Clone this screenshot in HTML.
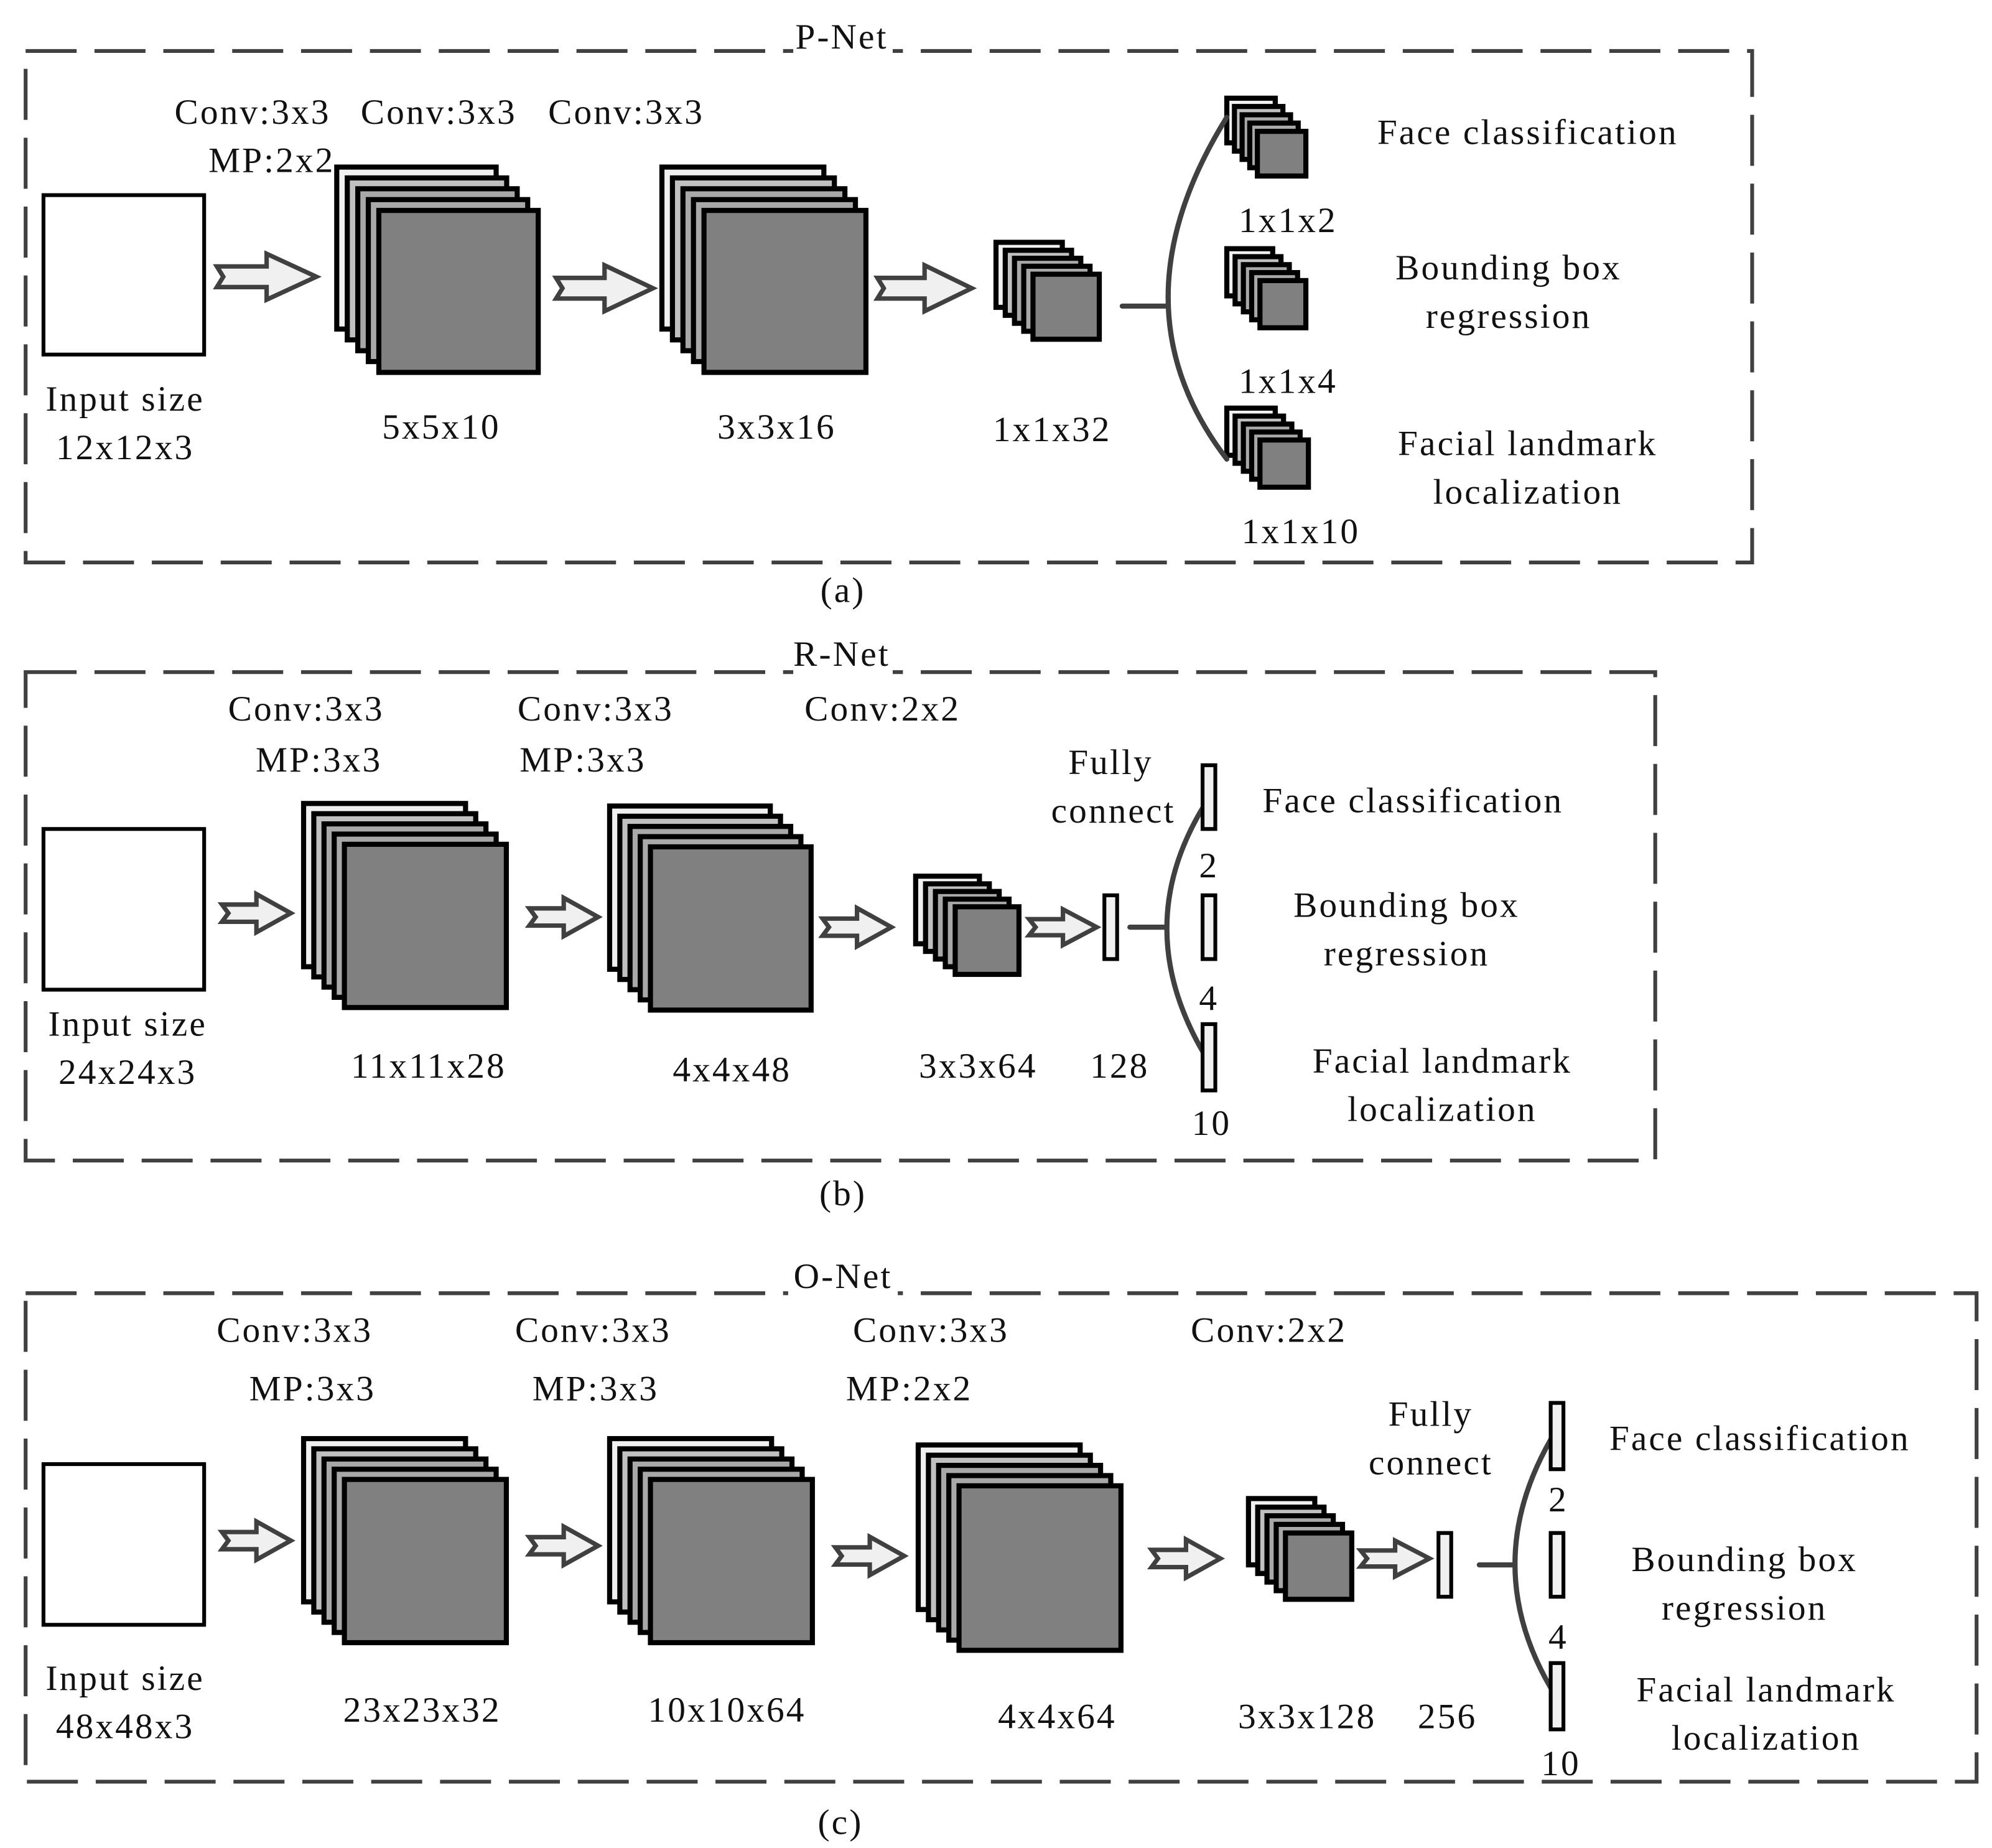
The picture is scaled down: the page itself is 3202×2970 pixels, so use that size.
<!DOCTYPE html>
<html><head><meta charset="utf-8"><style>
html,body{margin:0;padding:0;background:#fff;}
svg{display:block;}
text{font-family:"Liberation Serif",serif;font-size:28px;fill:#111;text-anchor:middle;letter-spacing:1.5px;}
</style></head><body>
<svg id="s" width="3202" height="2970" viewBox="0 0 1562 1449" xmlns="http://www.w3.org/2000/svg">
<rect width="1562" height="1449" fill="#fff"/>
<g fill="none" stroke="#404040" stroke-width="3" stroke-dasharray="40 14">
<rect x="20" y="40" width="1354" height="401"/>
<rect x="20" y="527" width="1278" height="383"/>
<rect x="20" y="1014" width="1530" height="383"/>
</g>
<rect x="622" y="14" width="78" height="30" fill="#fff"/>
<rect x="622" y="500" width="78" height="30" fill="#fff"/>
<rect x="618" y="988" width="86" height="30" fill="#fff"/>
<g fill="#fff" stroke="#000" stroke-width="3">
<rect x="34" y="153" width="126" height="125"/>
<rect x="34" y="650" width="126" height="126"/>
<rect x="34" y="1148" width="126" height="126"/>
</g>
<g id="shapes"></g>
<g fill="none" stroke="#404040" stroke-width="4" stroke-linecap="round">
<line x1="880" y1="240" x2="916" y2="240"/>
<path d="M962,92 Q870,240 962,360"/>
<line x1="886" y1="727" x2="915" y2="727"/>
<path d="M944,632 Q886,727 944,826"/>
<line x1="1160" y1="1227" x2="1188" y2="1227"/>
<path d="M1220,1122 Q1156,1227 1220,1330"/>
</g>
<g fill="#f0f0f0" stroke="#000" stroke-width="3">
<rect x="866" y="702" width="10" height="50"/>
<rect x="943" y="600" width="10" height="50"/>
<rect x="943" y="702" width="10" height="50"/>
<rect x="943" y="803" width="10" height="52"/>
<rect x="1128" y="1202" width="10" height="50"/>
<rect x="1216" y="1100" width="10" height="52"/>
<rect x="1216" y="1202" width="10" height="50"/>
<rect x="1216" y="1304" width="10" height="52"/>
</g>
<g>
<text x="660" y="38">P-Net</text>
<text x="198" y="97">Conv:3x3</text><text x="213" y="135">MP:2x2</text>
<text x="344" y="97">Conv:3x3</text><text x="491" y="97">Conv:3x3</text>
<text x="98" y="322">Input size</text><text x="98" y="360">12x12x3</text>
<text x="346" y="344">5x5x10</text><text x="609" y="344">3x3x16</text><text x="825" y="346">1x1x32</text>
<text x="1198" y="113">Face classification</text><text x="1010" y="182">1x1x2</text>
<text x="1183" y="219">Bounding box</text><text x="1183" y="257">regression</text>
<text x="1010" y="308">1x1x4</text>
<text x="1198" y="357">Facial landmark</text><text x="1198" y="395">localization</text>
<text x="1020" y="426">1x1x10</text>
<text x="661" y="472">(a)</text>

<text x="660" y="522">R-Net</text>
<text x="240" y="565">Conv:3x3</text><text x="250" y="605">MP:3x3</text>
<text x="467" y="565">Conv:3x3</text><text x="457" y="605">MP:3x3</text>
<text x="692" y="565">Conv:2x2</text>
<text x="871" y="607">Fully</text><text x="873" y="645">connect</text>
<text x="1108" y="637">Face classification</text>
<text x="1103" y="719">Bounding box</text><text x="1103" y="757">regression</text>
<text x="1131" y="841">Facial landmark</text><text x="1131" y="879">localization</text>
<text x="948" y="688">2</text><text x="948" y="792">4</text><text x="950" y="890">10</text>
<text x="100" y="812">Input size</text><text x="100" y="850">24x24x3</text>
<text x="336" y="845">11x11x28</text><text x="574" y="848">4x4x48</text>
<text x="767" y="845">3x3x64</text><text x="878" y="845">128</text>
<text x="661" y="945">(b)</text>

<text x="661" y="1010">O-Net</text>
<text x="231" y="1052">Conv:3x3</text><text x="245" y="1098">MP:3x3</text>
<text x="465" y="1052">Conv:3x3</text><text x="467" y="1098">MP:3x3</text>
<text x="730" y="1052">Conv:3x3</text><text x="713" y="1098">MP:2x2</text>
<text x="995" y="1052">Conv:2x2</text>
<text x="1122" y="1118">Fully</text><text x="1122" y="1156">connect</text>
<text x="1380" y="1137">Face classification</text>
<text x="1368" y="1232">Bounding box</text><text x="1368" y="1270">regression</text>
<text x="1385" y="1334">Facial landmark</text><text x="1385" y="1372">localization</text>
<text x="1222" y="1185">2</text><text x="1222" y="1293">4</text><text x="1224" y="1392">10</text>
<text x="98" y="1325">Input size</text><text x="98" y="1363">48x48x3</text>
<text x="331" y="1350">23x23x32</text><text x="570" y="1350">10x10x64</text>
<text x="829" y="1355">4x4x64</text><text x="1025" y="1355">3x3x128</text>
<text x="1135" y="1355">256</text>
<text x="659" y="1438">(c)</text>
</g>
</svg>
<script>
var NS="http://www.w3.org/2000/svg",g=document.getElementById("shapes");
function el(t,a){var e=document.createElementNS(NS,t);for(var k in a)e.setAttribute(k,a[k]);g.appendChild(e);}
function stack(fx,fy,fw,fh,bx,by){
 var fills=["#f0f0f0","#c0c0c0","#a8a8a8","#a8a8a8","#808080"];
 for(var i=0;i<5;i++){var t=i/4;
  el("rect",{x:bx+(fx-bx)*t,y:by+(fy-by)*t,width:fw,height:fh,fill:fills[i],stroke:"#000","stroke-width":4});}
}
[[297,165,125,127,264,131],[552,165,127,127,519,131],[810,215,52,51,781,190],
[986,103,38,35,962,77],[988,220,36,37,962,195],[988,345,38,37,962,320],
[270,662,127,128,238,630],[510,664,126,128,478,632],[749,711,50,53,718,687],
[270,1160,127,128,238,1128],[510,1160,127,128,478,1128],[752,1165,127,129,720,1133],[1008,1202,52,52,979,1175]
].forEach(function(a){stack.apply(null,a);});
function arrow(x1,x2,cy,h){var m=x1+(x2-x1)*0.5,s=h*0.45;
 el("polygon",{points:[x1,cy-s,m,cy-s,m,cy-h,x2,cy,m,cy+h,m,cy+s,x1,cy+s,x1+5,cy].join(","),fill:"#f0f0f0",stroke:"#404040","stroke-width":3.5});}
[[170,248,217,18],[436,512,226,18],[688,762,226,18],
[174,228,716,15],[415,469,719,15],[645,699,727,15],[807,860,727,14],
[174,228,1208,15],[415,469,1212,15],[655,709,1220,15],[903,957,1222,15],[1067,1121,1222,14]
].forEach(function(a){arrow.apply(null,a);});
</script>
</body></html>
